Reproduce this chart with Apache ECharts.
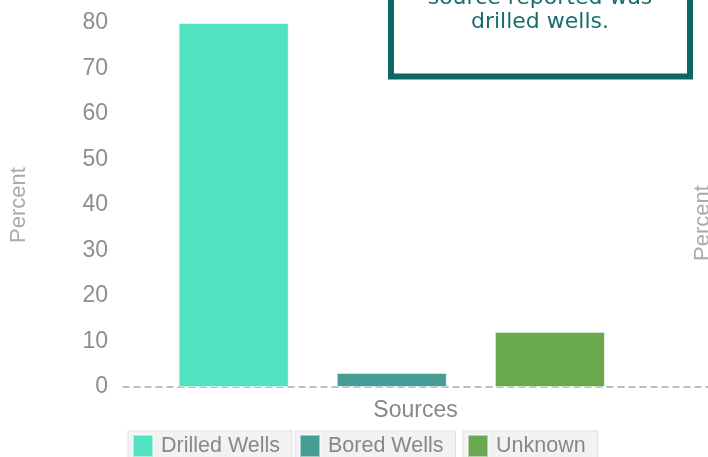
<!DOCTYPE html>
<html>
<head>
<meta charset="utf-8">
<script src="https://cdn.jsdelivr.net/npm/echarts@6/dist/echarts.min.js"></script>
<style>
html,body{margin:0;padding:0;background:#fff;}
#chart{width:708px;height:457px;}
</style>
</head>
<body>
<div id="chart"></div>
<script>
const categories = ['Drilled Wells', 'Bored Wells', 'Unknown'];
const values = [80, 3.1, 12.1];
const colors = ['#50e3c2', '#479d95', '#6aa84f'];
const yTicks = [0, 10, 20, 30, 40, 50, 60, 70, 80];
const calloutText = 'The most common water\nsource reported was\ndrilled wells.';

const chart = echarts.init(document.getElementById('chart'));
const legendLefts = [128, 295, 463];

const option = {
  animation: false,
  grid: { left: 122, right: 0, top: 23, bottom: 70 },
  xAxis: {
    type: 'value',
    min: 0.3,
    max: 4,
    name: 'Sources',
    nameLocation: 'middle',
    nameGap: 12,
    nameTextStyle: { color: '#888', fontSize: 23, fontFamily: 'Liberation Sans' },
    axisLine: { show: true, lineStyle: { color: '#aaa', type: [6, 5], width: 1.5 } },
    axisTick: { show: false },
    axisLabel: { show: false },
    splitLine: { show: false }
  },
  yAxis: {
    type: 'value',
    min: yTicks[0],
    max: yTicks[yTicks.length - 1],
    interval: 10,
    name: 'Percent',
    nameLocation: 'middle',
    nameGap: 93,
    nameTextStyle: { color: '#aaa', fontSize: 22, fontFamily: 'Liberation Sans' },
    axisLine: { show: false },
    axisTick: { show: false },
    splitLine: { show: false },
    axisLabel: { color: '#8e8e8e', fontSize: 23, margin: 15, fontFamily: 'Liberation Sans' }
  },
  legend: categories.map((c, i) => ({
    data: [c],
    left: legendLefts[i],
    top: 431,
    icon: 'rect',
    itemWidth: 20,
    itemHeight: 22,
    backgroundColor: '#f2f2f2',
    borderColor: '#e2e2e2',
    borderWidth: 1,
    padding: [3, 12, 3, 4],
    selectedMode: false,
    textStyle: { color: '#888', fontSize: 21.5, fontFamily: 'Liberation Sans', padding: [0, 0, 0, 3] }
  })),
  series: categories.map((c, i) => ({
    name: c,
    type: 'bar',
    stack: 'all',
    barWidth: 110,
    itemStyle: { color: colors[i], borderColor: 'rgba(255,255,255,0.5)', borderWidth: 1 },
    data: [[i + 1, values[i]]]
  })),
  graphic: [
    {
      type: 'rect',
      shape: { x: 391, y: -60, width: 299, height: 136.5 },
      style: { fill: '#fff', stroke: '#0d6666', lineWidth: 6 },
      z: 100
    },
    {
      type: 'text',
      x: 540,
      y: 34,
      z: 101,
      style: {
        text: calloutText,
        textAlign: 'center',
        textVerticalAlign: 'bottom',
        fill: '#186e6e',
        fontSize: 22,
        lineHeight: 24,
        fontFamily: 'DejaVu Sans'
      }
    },
    {
      type: 'text',
      x: 692,
      y: 261,
      rotation: Math.PI / 2,
      z: 50,
      style: { text: 'Percent', fill: '#aaa', fontSize: 22, fontFamily: 'Liberation Sans', textVerticalAlign: 'top' }
    }
  ]
};
chart.setOption(option);
</script>
</body>
</html>
